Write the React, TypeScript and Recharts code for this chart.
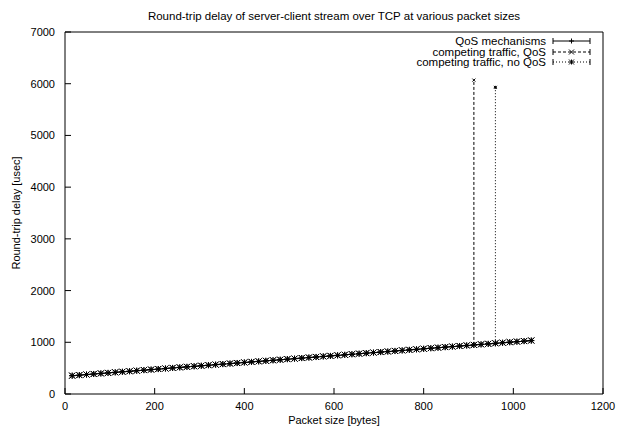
import React from 'react';
import { LineChart, Line, XAxis, YAxis, Legend } from 'recharts';

const title = 'Round-trip delay of server-client stream over TCP at various packet sizes';
const xLabel = 'Packet size [bytes]';
const yLabel = 'Round-trip delay [usec]';

const packetSizes = [
  16, 32, 48, 64, 80, 96, 112, 128, 144, 160, 176, 192, 208, 224, 240, 256,
  272, 288, 304, 320, 336, 352, 368, 384, 400, 416, 432, 448, 464, 480, 496, 512,
  528, 544, 560, 576, 592, 608, 624, 640, 656, 672, 688, 704, 720, 736, 752, 768,
  784, 800, 816, 832, 848, 864, 880, 896, 912, 928, 944, 960, 976, 992, 1008, 1024,
  1040,
];

const qosMechanismsDelay = [
  352, 363, 375, 386, 396, 407, 418, 428, 439, 450, 460, 471, 481, 492, 503, 513,
  524, 534, 545, 556, 566, 577, 587, 598, 608, 619, 630, 640, 651, 661, 672, 682,
  693, 704, 714, 725, 735, 746, 756, 767, 778, 788, 799, 809, 820, 830, 841, 852,
  862, 873, 883, 894, 904, 915, 926, 936, 947, 957, 968, 978, 989, 1000, 1010, 1021,
  1031,
];

const competingQosDelay = [
  354, 365, 376, 387, 398, 408, 419, 430, 440, 451, 462, 472, 483, 493, 504, 515,
  525, 536, 546, 557, 568, 578, 589, 599, 610, 621, 631, 642, 652, 663, 674, 684,
  695, 705, 716, 727, 737, 748, 758, 769, 780, 790, 801, 811, 822, 833, 843, 854,
  864, 875, 886, 896, 907, 917, 928, 939, 949, 960, 970, 981, 992, 1002, 1013, 1023,
  1034,
];

const competingNoQosDelay = [
  356, 366, 377, 388, 399, 409, 420, 431, 441, 452, 463, 473, 484, 494, 505, 516,
  526, 537, 547, 558, 569, 579, 590, 600, 611, 622, 632, 643, 653, 664, 675, 685,
  696, 706, 717, 728, 738, 749, 759, 770, 781, 791, 802, 812, 823, 834, 844, 855,
  865, 876, 887, 897, 908, 918, 929, 940, 950, 961, 971, 982, 993, 1003, 1014, 1024,
  1035,
];

// isolated outlier measurements (drawn as vertical spikes)
const competingQosSpike = { size: 912, delay: 6070 };
const competingNoQosSpike = { size: 960, delay: 5930 };

const xTicks = [0, 200, 400, 600, 800, 1000, 1200];
const yTicks = [0, 1000, 2000, 3000, 4000, 5000, 6000, 7000];

type Pt = { size: number; delay: number };

function buildSeries(values: number[]): Pt[] {
  return packetSizes.map((s, i) => ({ size: s, delay: values[i] }));
}
function buildSpike(values: number[], spike: { size: number; delay: number }): Pt[] {
  const i = packetSizes.indexOf(spike.size);
  return [
    { size: spike.size, delay: values[i] },
    { size: spike.size, delay: spike.delay },
  ];
}

const FONT = '"Liberation Sans", Arial, Helvetica, sans-serif';
const FS = 11;

type MarkerKind = 'plus' | 'cross' | 'star';

function markerShape(kind: MarkerKind, cx: number, cy: number, r = 3) {
  const plus = (
    <>
      <line x1={cx - r} y1={cy} x2={cx + r} y2={cy} stroke="#000" strokeWidth={1} />
      <line x1={cx} y1={cy - r} x2={cx} y2={cy + r} stroke="#000" strokeWidth={1} />
    </>
  );
  const cross = (
    <>
      <line x1={cx - r} y1={cy - r} x2={cx + r} y2={cy + r} stroke="#000" strokeWidth={1} />
      <line x1={cx - r} y1={cy + r} x2={cx + r} y2={cy - r} stroke="#000" strokeWidth={1} />
    </>
  );
  if (kind === 'plus') return plus;
  if (kind === 'cross') return cross;
  return (
    <>
      {plus}
      {cross}
    </>
  );
}

const makeDot = (kind: MarkerKind, r = 3) => (props: any) => {
  const { cx, cy, index } = props;
  if (cx == null || cy == null) return <g key={`d-${kind}-${index}`} />;
  return <g key={`d-${kind}-${index}`}>{markerShape(kind, cx, cy, r)}</g>;
};

const seriesDefs = [
  {
    name: 'QoS mechanisms',
    data: buildSeries(qosMechanismsDelay),
    spike: null as Pt[] | null,
    dash: undefined as string | undefined,
    marker: 'plus' as MarkerKind,
  },
  {
    name: 'competing traffic, QoS',
    data: buildSeries(competingQosDelay),
    spike: buildSpike(competingQosDelay, competingQosSpike),
    dash: '3 2',
    marker: 'cross' as MarkerKind,
  },
  {
    name: 'competing traffic, no QoS',
    data: buildSeries(competingNoQosDelay),
    spike: buildSpike(competingNoQosDelay, competingNoQosSpike),
    dash: '1 2',
    marker: 'star' as MarkerKind,
  },
];

const BottomTick = (props: any) => {
  const { x, y, payload } = props;
  return (
    <g>
      <line x1={x} y1={y} x2={x} y2={y - 6} stroke="#000" />
      <text x={x} y={y + 16} textAnchor="middle" fontSize={FS} fontFamily={FONT} fill="#000">
        {payload.value}
      </text>
    </g>
  );
};
const TopTick = (props: any) => {
  const { x, y } = props;
  return <line x1={x} y1={y} x2={x} y2={y + 6} stroke="#000" />;
};
const LeftTick = (props: any) => {
  const { x, y, payload } = props;
  return (
    <g>
      <line x1={x} y1={y} x2={x + 6} y2={y} stroke="#000" />
      <text x={x - 10} y={y + 4} textAnchor="end" fontSize={FS} fontFamily={FONT} fill="#000">
        {payload.value}
      </text>
    </g>
  );
};
const RightTick = (props: any) => {
  const { x, y } = props;
  return <line x1={x} y1={y} x2={x - 6} y2={y} stroke="#000" />;
};

const LegendContent = () => (
  <div style={{ fontFamily: FONT, fontSize: 11.5, color: '#000' }}>
    {seriesDefs.map((s) => (
      <div
        key={s.name}
        style={{ display: 'flex', justifyContent: 'flex-end', alignItems: 'center', height: 10.5, lineHeight: '10.5px' }}
      >
        <span style={{ whiteSpace: 'nowrap' }}>{s.name}</span>
        <svg width={40} height={10} style={{ marginLeft: 6, overflow: 'visible' }}>
          <line x1={1} y1={5} x2={38} y2={5} stroke="#000" strokeDasharray={s.dash} />
          <line x1={1} y1={2} x2={1} y2={8} stroke="#000" />
          <line x1={38} y1={2} x2={38} y2={8} stroke="#000" />
          {markerShape(s.marker, 19.5, 5, 2.5)}
        </svg>
      </div>
    ))}
  </div>
);

export default function App() {
  return (
    <LineChart
      width={623}
      height={423}
      margin={{ top: 23, right: 27, bottom: 36, left: 56 }}
      style={{ fontFamily: FONT }}
    >
      <XAxis
        xAxisId="bottom"
        dataKey="size"
        type="number"
        domain={[0, 1200]}
        ticks={xTicks}
        interval={0}
        allowDuplicatedCategory
        height={1}
        tickSize={0}
        tickMargin={0}
        tickLine={false}
        axisLine={{ stroke: '#000' }}
        tick={<BottomTick />}
        label={{
          content: (p: any) => {
            const vb = p.viewBox || {};
            return (
              <text x={vb.x + vb.width / 2} y={vb.y + 30} textAnchor="middle" fontSize={FS} fontFamily={FONT} fill="#000">
                {xLabel}
              </text>
            );
          },
        }}
      />
      <XAxis
        xAxisId="top"
        orientation="top"
        dataKey="size"
        type="number"
        domain={[0, 1200]}
        ticks={xTicks}
        interval={0}
        height={1}
        tickSize={0}
        tickMargin={0}
        tickLine={false}
        axisLine={{ stroke: '#000' }}
        tick={<TopTick />}
        label={{
          content: (p: any) => {
            const vb = p.viewBox || {};
            return (
              <text x={vb.x + vb.width / 2} y={vb.y - 11} textAnchor="middle" fontSize={11.5} fontFamily={FONT} fill="#000">
                {title}
              </text>
            );
          },
        }}
      />
      <YAxis
        yAxisId="left"
        type="number"
        domain={[0, 7000]}
        ticks={yTicks}
        interval={0}
        width={1}
        tickSize={0}
        tickMargin={0}
        tickLine={false}
        axisLine={{ stroke: '#000' }}
        tick={<LeftTick />}
        label={{
          content: (p: any) => {
            const vb = p.viewBox || {};
            const cx = vb.x - 48;
            const cy = vb.y + vb.height / 2;
            return (
              <text
                x={cx}
                y={cy}
                transform={`rotate(-90 ${cx} ${cy})`}
                textAnchor="middle"
                dominantBaseline="central"
                fontSize={FS}
                fontFamily={FONT}
                fill="#000"
              >
                {yLabel}
              </text>
            );
          },
        }}
      />
      <YAxis
        yAxisId="right"
        orientation="right"
        type="number"
        domain={[0, 7000]}
        ticks={yTicks}
        interval={0}
        width={1}
        tickSize={0}
        tickMargin={0}
        tickLine={false}
        axisLine={{ stroke: '#000' }}
        tick={<RightTick />}
      />
      <Legend
        layout="vertical"
        align="center"
        verticalAlign="middle"
        content={<LegendContent />}
        wrapperStyle={{ position: 'absolute', left: 339, top: 28, width: 245 }}
      />
      {seriesDefs.map((s) =>
        s.spike ? (
          <Line
            key={`${s.name}-spike`}
            xAxisId="bottom"
            yAxisId="left"
            name={`${s.name} (outlier)`}
            legendType="none"
            data={s.spike}
            dataKey="delay"
            type="linear"
            stroke="#000"
            strokeWidth={1}
            strokeDasharray={s.dash}
            dot={makeDot(s.marker, 1.5)}
            activeDot={false}
            isAnimationActive={false}
          />
        ) : null
      )}
      {seriesDefs.map((s) => (
        <Line
          key={s.name}
          xAxisId="bottom"
          yAxisId="left"
          name={s.name}
          data={s.data}
          dataKey="delay"
          type="linear"
          stroke="#000"
          strokeWidth={1}
          strokeDasharray={s.dash}
          dot={makeDot(s.marker)}
          activeDot={false}
          isAnimationActive={false}
        />
      ))}
    </LineChart>
  );
}
